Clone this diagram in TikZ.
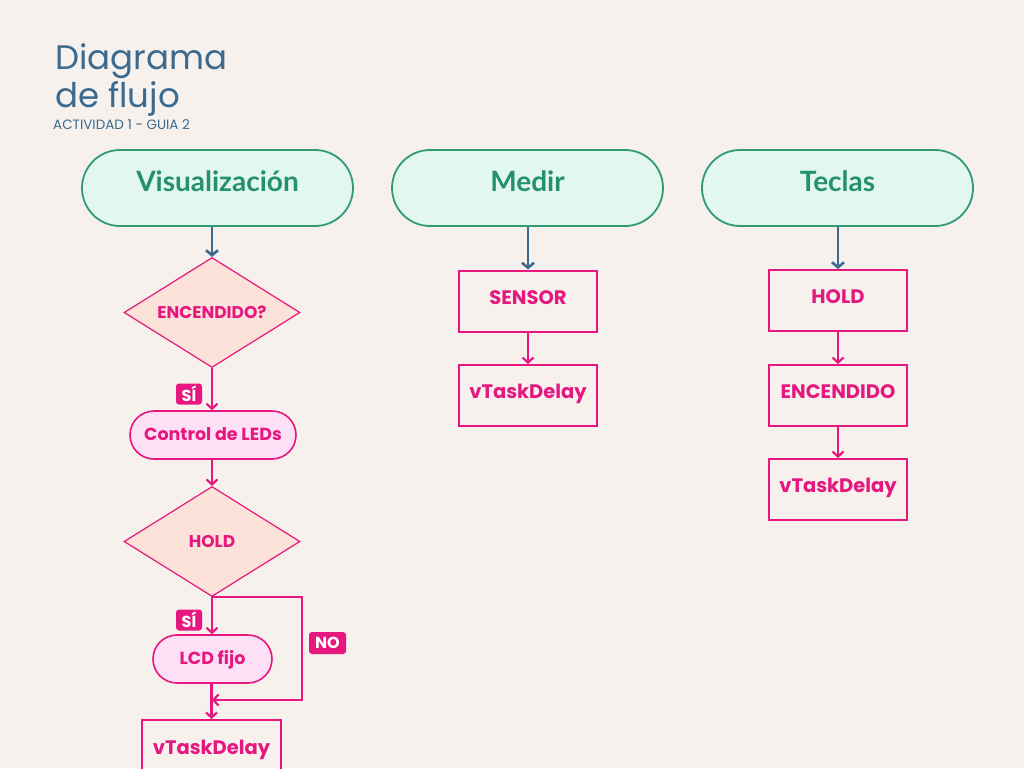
\documentclass[tikz,border=0pt]{standalone}
\usepackage{fontspec}
\setmainfont{Poppins}
\newfontfamily\headfont{Lato}
\usetikzlibrary{shapes.geometric,shapes.misc,arrows.meta}
\definecolor{paper}{HTML}{F6F1ED}
\definecolor{hot}{HTML}{E6177E}
\definecolor{mint}{HTML}{E3F7F1}
\definecolor{leaf}{HTML}{2F9A74}
\definecolor{leaftext}{HTML}{24916C}
\definecolor{ink}{HTML}{3B6A8E}
\definecolor{peach}{HTML}{FDE2D9}
\definecolor{blush}{HTML}{FDDFF6}
\tikzset{
  task/.style={rounded rectangle, draw=leaf, fill=mint, line width=1.8pt,
    minimum width=271, minimum height=76, text=leaftext, inner sep=0pt,
    text height=18pt, text depth=11pt,
    font=\headfont\bfseries\fontsize{28}{30}\selectfont},
  decision/.style={diamond, aspect=1.6, draw=hot, fill=peach, line width=1.2pt,
    minimum width=176, minimum height=110, inner sep=0pt, text=hot,
    text height=12pt, text depth=0pt,
    font=\bfseries\fontsize{17}{18}\selectfont},
  proc/.style={rounded rectangle, draw=hot, fill=blush, line width=1.6pt,
    minimum height=48, inner sep=0pt, text=hot,
    text height=13pt, text depth=2pt,
    font=\bfseries\fontsize{17.5}{18}\selectfont},
  stepbox/.style={rectangle, draw=hot, line width=2pt, minimum width=138,
    minimum height=61, inner sep=0pt, text=hot,
    text height=14pt, text depth=8pt,
    font=\bfseries\fontsize{19.5}{20}\selectfont},
  tag/.style={fill=hot, rounded corners=3pt, text=white, inner sep=0pt,
    minimum width=26, minimum height=21,
    font=\bfseries\fontsize{16}{16}\selectfont},
  flow/.style={draw=hot, line width=2.2pt, -{Straight Barb[length=5pt,width=11pt]}},
  lead/.style={draw=ink, line width=2.6pt, -{Straight Barb[length=5pt,width=12pt]}},
  heading/.style={anchor=base west, text=ink, inner sep=0pt}
}
\begin{document}
\begin{tikzpicture}[x=1pt,y=-1pt]
\fill[paper] (0,0) rectangle (1024,768);
\useasboundingbox (0,0) rectangle (1024,768);

% title block
\node[heading, font=\fontsize{34}{36}\selectfont] (t1) at (55,69) {Diagrama};
\node[heading, font=\fontsize{34}{36}\selectfont] (t2) at (55,107) {de flujo};
\node[heading, font=\fontsize{13.5}{14}\selectfont] (t3) at (53,129.5) {ACTIVIDAD 1 - GUIA 2};

% task headers
\node[task] (vis) at (217.5,188) {Visualización};
\node[task] (med) at (527.5,188) {Medir};
\node[task] (tec) at (837.5,188) {Teclas};

% Visualización column
\node[decision] (enc) at (212,312.5) {ENCENDIDO?};
\node[proc, minimum width=166] (leds) at (213,435) {Control de LEDs};
\node[decision] (hold) at (212,541.5) {HOLD};
\node[proc, minimum width=119] (lcd) at (212.5,659) {LCD fijo};
\node[stepbox, minimum width=139, minimum height=62] (d1) at (211.5,751) {vTaskDelay};
\coordinate (merge) at (212,700);

\node[tag] (si1) at (189,394) {SÍ};
\node[tag] (si2) at (189,620) {SÍ};
\node[tag, minimum width=37, minimum height=22] (no) at (327.5,643) {NO};

% Medir column
\node[stepbox] (sen) at (528,301) {SENSOR};
\node[stepbox] (d2) at (528,395.5) {vTaskDelay};

% Teclas column
\node[stepbox] (th) at (838,300.5) {HOLD};
\node[stepbox] (te) at (838,395.5) {ENCENDIDO};
\node[stepbox] (d3) at (838,489.5) {vTaskDelay};

% connectors
\draw[lead] (vis.south -| enc.north) -- (enc.north);
\draw[lead] (med.south -| sen.north) -- (sen.north);
\draw[lead] (tec.south -| th.north) -- (th.north);

\draw[flow] (enc.south) -- (enc.south |- leds.north);
\draw[flow] (leds.south -| hold.north) -- (hold.north);
\draw[flow] (hold.south) -- (hold.south |- lcd.north);
\draw[flow] (hold.south) -- ++(90,0) |- (merge);
\draw[flow] (lcd.south -| d1.north) -- (d1.north);

\draw[flow] (sen.south) -- (d2.north);
\draw[flow] (th.south) -- (te.north);
\draw[flow] (te.south) -- (d3.north);
\end{tikzpicture}
\end{document}
